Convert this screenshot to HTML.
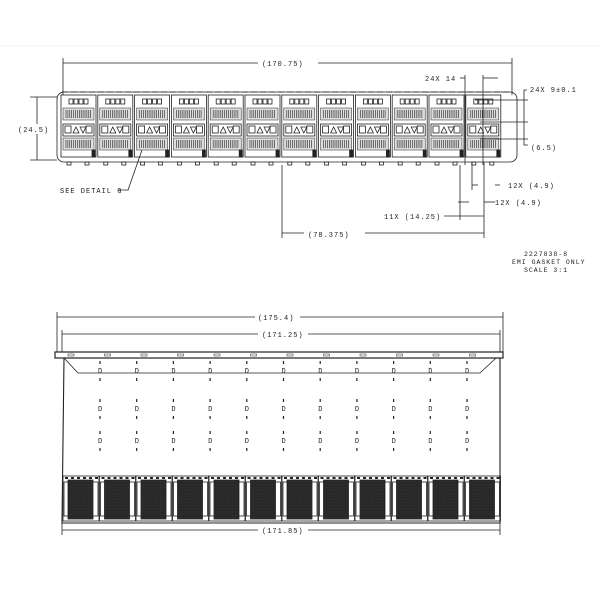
<!DOCTYPE html>
<html><head><style>
html,body{margin:0;padding:0;background:#fff;}
svg text{font-family:"Liberation Mono",monospace;font-size:7px;fill:#222;letter-spacing:1px;stroke:none}
</style></head><body>
<svg id="s" width="600" height="600" viewBox="0 0 600 600" xmlns="http://www.w3.org/2000/svg" stroke="#222" fill="none" stroke-width="0.8">
<defs>
<pattern id="hp" width="3" height="3" patternUnits="userSpaceOnUse"><rect width="3" height="3" fill="#333"/><rect x="0" y="0" width="1" height="1" fill="#aaa"/></pattern>
</defs>
<line x1="0" y1="46" x2="600" y2="46" stroke="#eee"/>
<line x1="63" y1="58" x2="63" y2="95"/><line x1="512" y1="58" x2="512" y2="95"/>
<line x1="63" y1="63" x2="512" y2="63"/>
<rect x="258" y="58" width="60" height="10" fill="#fff" stroke="none"/>
<text x="262" y="66">(170.75)</text>
<line x1="30" y1="97" x2="57" y2="97"/><line x1="30" y1="160" x2="57" y2="160"/>
<line x1="37" y1="97" x2="37" y2="160"/>
<rect x="16" y="124" width="30" height="10" fill="#fff" stroke="none"/>
<text x="18" y="132">(24.5)</text>
<rect x="57" y="92" width="460" height="70" rx="7"/>
<line x1="62" y1="92" x2="512" y2="92" stroke-dasharray="6 3"/>
<g id="cells"></g>
<text x="60" y="193">SEE DETAIL  G</text>
<path d="M118 190 L128 190 L142 150"/>
<text x="425" y="81">24X 14</text>
<line x1="460" y1="78" x2="465" y2="78"/><line x1="465" y1="75" x2="465" y2="165"/><line x1="483" y1="75" x2="483" y2="165"/>
<line x1="483" y1="78" x2="498" y2="78"/>
<text x="530" y="92">24X 9±0.1</text>
<path d="M527 90 L524 90 L524 145 L528 145"/>
<line x1="475" y1="100" x2="528" y2="100"/><line x1="480" y1="122" x2="528" y2="122"/><line x1="480" y1="139" x2="528" y2="139"/>
<text x="531" y="150">(6.5)</text>
<line x1="472" y1="162" x2="472" y2="190"/><line x1="484" y1="162" x2="484" y2="215"/>
<line x1="478" y1="185" x2="472" y2="185"/><line x1="495" y1="185" x2="500" y2="185"/>
<text x="508" y="188">12X (4.9)</text>
<line x1="458" y1="202" x2="469" y2="202"/><line x1="484" y1="202" x2="495" y2="202"/>
<text x="495" y="205">12X (4.9)</text>
<line x1="460" y1="165" x2="460" y2="220"/><line x1="282" y1="165" x2="282" y2="238"/>
<text x="384" y="219">11X (14.25)</text>
<line x1="444" y1="216" x2="484" y2="216"/>
<text x="308" y="237">(78.375)</text>
<line x1="282" y1="233" x2="304" y2="233"/><line x1="365" y1="233" x2="484" y2="233"/>
<line x1="484" y1="215" x2="484" y2="238"/>
<text x="524" y="256" style="font-size:6.5px">2227838-8</text>
<text x="512" y="264" style="font-size:6.5px">EMI GASKET ONLY</text>
<text x="524" y="272" style="font-size:6.5px">SCALE 3:1</text>
<line x1="57" y1="312" x2="57" y2="352"/><line x1="503" y1="312" x2="503" y2="352"/>
<line x1="57" y1="317" x2="503" y2="317"/>
<rect x="255" y="312" width="45" height="10" fill="#fff" stroke="none"/><text x="258" y="320">(175.4)</text>
<line x1="62" y1="330" x2="62" y2="352"/><line x1="500" y1="330" x2="500" y2="352"/>
<line x1="62" y1="334" x2="500" y2="334"/>
<rect x="258" y="329" width="50" height="10" fill="#fff" stroke="none"/><text x="262" y="337">(171.25)</text>
<rect x="55" y="352" width="448" height="6" stroke-width="1.2"/>
<path d="M64 358 L62 523 L500 523 L500 358" stroke-width="1.1"/>
<path d="M64 358 L78 373 L480 373 L496 358"/>
<g id="bot"></g>
<line x1="62" y1="523" x2="62" y2="535"/><line x1="500" y1="523" x2="500" y2="535"/>
<line x1="62" y1="530" x2="500" y2="530"/>
<rect x="258" y="525" width="50" height="10" fill="#fff" stroke="none"/><text x="262" y="533">(171.85)</text>
</svg>
<script>
var ns="http://www.w3.org/2000/svg";
function el(p,t,a){var e=document.createElementNS(ns,t);for(var k in a)e.setAttribute(k,a[k]);p.appendChild(e);return e;}
var c=document.getElementById("cells"),b=document.getElementById("bot");
for(var i=0;i<12;i++){
 var x=61+i*36.8;
 el(c,"rect",{x:x,y:95,width:35,height:62});
 for(var j=0;j<4;j++)el(c,"rect",{x:x+8+j*5,y:99,width:4,height:5});
 el(c,"rect",{x:x+2,y:108,width:31,height:12,fill:"#ddd","stroke-width":0.5});
 el(c,"rect",{x:x+2,y:138,width:31,height:12,fill:"#ddd","stroke-width":0.5});
 for(var k=0;k<14;k++){el(c,"line",{x1:x+5+k*1.9,y1:110,x2:x+5+k*1.9,y2:118,"stroke-width":0.6});el(c,"line",{x1:x+5+k*1.9,y1:140,x2:x+5+k*1.9,y2:148,"stroke-width":0.6});}
 el(c,"rect",{x:x+2,y:124,width:31,height:12});
 el(c,"rect",{x:x+4,y:126,width:6,height:7});el(c,"rect",{x:x+25,y:126,width:6,height:7});
 el(c,"path",{d:"M"+(x+12)+" 133 L"+(x+15)+" 127 L"+(x+18)+" 133 Z"});
 el(c,"path",{d:"M"+(x+19)+" 127 L"+(x+22)+" 133 L"+(x+25)+" 127 Z"});
 el(c,"rect",{x:x+31,y:150,width:3,height:7,fill:"#222"});
 el(c,"rect",{x:x+6,y:162,width:4,height:3});el(c,"rect",{x:x+24,y:162,width:4,height:3});
 var bx=63+i*36.5;
 el(b,"rect",{x:bx+5,y:354,width:6,height:2,"stroke-width":0.5});
 if(i<11){var dx=100+i*36.7;
  [370,408,440].forEach(function(y){el(b,"text",{x:dx-2,y:y+3,style:"font-size:7px;letter-spacing:0"}).textContent="D";el(b,"line",{x1:dx,y1:y+8,x2:dx,y2:y+11,"stroke-width":1.2});el(b,"line",{x1:dx,y1:y-9,x2:dx,y2:y-6,"stroke-width":1.2});});
 }
 el(b,"rect",{x:bx,y:476,width:36,height:45});
 el(b,"rect",{x:bx+5,y:480,width:25,height:39,fill:"url(#hp)"});
 el(b,"rect",{x:bx+1,y:482,width:4,height:34,fill:"#fff"});
 el(b,"rect",{x:bx+30,y:482,width:5,height:34,fill:"#fff"});
 for(var m=0;m<6;m++)el(b,"rect",{x:bx+2+m*6,y:477,width:3,height:2,fill:"#222","stroke-width":0});
}
</script>
</body></html>
